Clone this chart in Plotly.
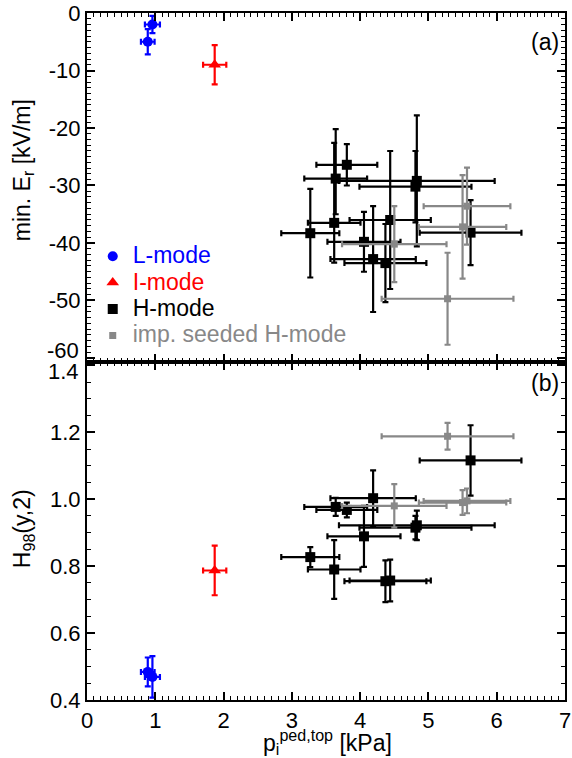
import plotly.graph_objects as go

# ---------------- data ----------------
# L-mode
l_p = [0.958, 0.89]
l_perr = [0.11, 0.10]
l_er = [-2.0, -5.0]
l_er_err = [1.5, 2.2]
l_h = [0.469, 0.484]
l_h_err = [0.062, 0.043]

# I-mode
i_p = [1.87]
i_perr = [0.17]
i_er = [-9.0]
i_er_err = [3.4]
i_h = [0.787]
i_h_err = [0.074]

# H-mode
h_p = [3.805, 3.642, 3.62, 3.27, 4.056, 4.19, 4.37, 4.44, 4.83, 4.81, 5.617]
h_perr = [0.446, 0.46, 0.385, 0.425, 0.535, 0.625, 0.60, 0.595, 1.14, 0.82, 0.745]
h_er = [-26.4, -28.8, -36.5, -38.3, -39.8, -42.8, -43.5, -36.0, -29.2, -30.2, -38.2]
h_er_up = [3.6, 8.6, 13.9, 7.7, 5.2, 9.2, 6.8, 12.0, 11.4, 6.2, 5.65]
h_er_dn = [3.6, 6.2, 6.9, 7.7, 5.2, 9.2, 6.8, 12.0, 11.4, 6.2, 5.65]
h_h = [0.968, 0.977, 0.79, 0.827, 0.889, 1.003, 0.755, 0.757, 0.922, 0.915, 1.116]
h_h_err = [0.022, 0.027, 0.088, 0.03, 0.091, 0.083, 0.0625, 0.0625, 0.044, 0.035, 0.105]

# impurity seeded H-mode
s_p = [5.565, 5.50, 4.50, 5.28]
s_perr = [0.635, 0.64, 0.765, 0.965]
s_er = [-33.6, -37.2, -40.2, -49.7]
s_er_err = [6.7, 9.0, 6.6, 8.0]
s_h = [0.995, 0.99, 0.98, 1.188]
s_h_err = [0.037, 0.037, 0.065, 0.04]

x_ticks = [0, 1, 2, 3, 4, 5, 6, 7]
er_ticks = [0, -10, -20, -30, -40, -50, -60]
er_ticktext = ["0", "-10", "-20", "-30", "-40", "-50", ""]
h_ticks = [0.4, 0.6, 0.8, 1.0, 1.2, 1.4]
h_ticktext = ["0.4", "0.6", "0.8", "1.0", "1.2", ""]

FONT = "Liberation Sans, Arial, sans-serif"
FS = 22
FT = 23
BLUE = "#0000ff"
RED = "#ff0000"
BLACK = "#000000"
GRAY = "#888888"

groups = [
    ("L-mode", BLUE, "circle", 10, l_p, l_perr, l_er, l_er_err, l_er_err, l_h, l_h_err),
    ("I-mode", RED, "triangle-up", 11, i_p, i_perr, i_er, i_er_err, i_er_err, i_h, i_h_err),
    ("H-mode", BLACK, "square", 10, h_p, h_perr, h_er, h_er_up, h_er_dn, h_h, h_h_err),
    ("imp. seeded H-mode", GRAY, "square", 7, s_p, s_perr, s_er, s_er_err, s_er_err, s_h, s_h_err),
]

fig = go.Figure()
for name, col, sym, size, px, pxe, er, eru, erd, hh, hhe in groups:
    ex = dict(type="data", array=pxe, color=col, thickness=2.2, width=3)
    fig.add_trace(go.Scatter(
        x=px, y=er, mode="markers", xaxis="x", yaxis="y",
        name=f'<span style="color:{col};font-size:23px">{name}</span>',
        marker=dict(symbol=sym, size=size, color=col, line=dict(width=0)),
        error_x=ex,
        error_y=dict(type="data", array=eru, arrayminus=erd, symmetric=False,
                     color=col, thickness=2.2, width=3),
        showlegend=True,
    ))
    fig.add_trace(go.Scatter(
        x=px, y=hh, mode="markers", xaxis="x2", yaxis="y2",
        marker=dict(symbol=sym, size=size, color=col, line=dict(width=0)),
        error_x=ex,
        error_y=dict(type="data", array=hhe, color=col, thickness=2.2, width=3),
        showlegend=False,
    ))

split = (700 - 362) / 687

common_x = dict(range=[0, 7], tickvals=x_ticks, ticktext=[str(v) for v in x_ticks],
                ticks="inside", ticklen=8, tickwidth=1.5,
                tickcolor=BLACK, showline=True, linewidth=2, linecolor=BLACK,
                mirror="allticks", showgrid=False, zeroline=False,
                ticklabeloverflow="allow",
                minor=dict(ticks="inside", dtick=0.1, ticklen=4, tickwidth=1, tickcolor=BLACK),
                tickfont=dict(family=FONT, size=FS, color=BLACK))

ycommon = dict(ticks="inside", ticklen=8, tickwidth=1.5, tickcolor=BLACK,
               showline=True, linewidth=2, linecolor=BLACK, mirror="allticks",
               showgrid=False, zeroline=False,
               tickfont=dict(family=FONT, size=FS, color=BLACK))

fig.update_layout(
    width=572, height=758,
    margin=dict(l=87, r=1, t=13, b=58),
    paper_bgcolor="white", plot_bgcolor="white",
    font=dict(family=FONT, size=FS, color=BLACK),
    xaxis=dict(**common_x, anchor="y", showticklabels=False),
    yaxis=dict(**ycommon, domain=[split, 1], range=[-60.7, 0],
               tickvals=er_ticks, ticktext=er_ticktext,
               minor=dict(ticks="inside", dtick=1, ticklen=4, tickwidth=1, tickcolor=BLACK),
               anchor="x"),
    xaxis2=dict(**common_x, anchor="y2", matches="x"),
    yaxis2=dict(**ycommon, domain=[0, split], range=[0.4, 1.41],
                tickvals=h_ticks, ticktext=h_ticktext,
                minor=dict(ticks="inside", dtick=0.05, ticklen=4, tickwidth=1, tickcolor=BLACK),
                anchor="x2"),
    legend=dict(x=0.012, y=0.6725, xanchor="left", yanchor="top",
                bgcolor="rgba(0,0,0,0)", borderwidth=0,
                font=dict(family=FONT, size=18), tracegroupgap=0,
                itemclick=False),
    annotations=[
        dict(text="-60", xref="paper", yref="paper", x=-0.0124, y=0.5085,
             showarrow=False, xanchor="right", yanchor="middle",
             font=dict(family=FONT, size=FS)),
        dict(text="1.4", xref="paper", yref="paper", x=-0.0124, y=0.478,
             showarrow=False, xanchor="right", yanchor="middle",
             font=dict(family=FONT, size=FS)),
        dict(text="min. E<sub>r</sub> [kV/m]", xref="paper", yref="paper",
             x=-0.134, y=0.771, textangle=-90, showarrow=False,
             xanchor="center", yanchor="middle", font=dict(family=FONT, size=FT)),
        dict(text="H<sub>98</sub>(y,2)", xref="paper", yref="paper",
             x=-0.134, y=0.250, textangle=-90, showarrow=False,
             xanchor="center", yanchor="middle", font=dict(family=FONT, size=FT)),
        dict(text="p<sub>i</sub><sup>ped,top</sup> [kPa]", xref="paper", yref="paper",
             x=0.504, y=-0.061, showarrow=False, xanchor="center", yanchor="middle",
             font=dict(family=FONT, size=FT)),
        dict(text="(a)", xref="paper", yref="paper", x=0.992, y=0.958,
             showarrow=False, xanchor="right", yanchor="middle",
             font=dict(family=FONT, size=FT)),
        dict(text="(b)", xref="paper", yref="paper", x=0.992, y=0.461,
             showarrow=False, xanchor="right", yanchor="middle",
             font=dict(family=FONT, size=FT)),
    ],
)

fig.write_html("out.html")
